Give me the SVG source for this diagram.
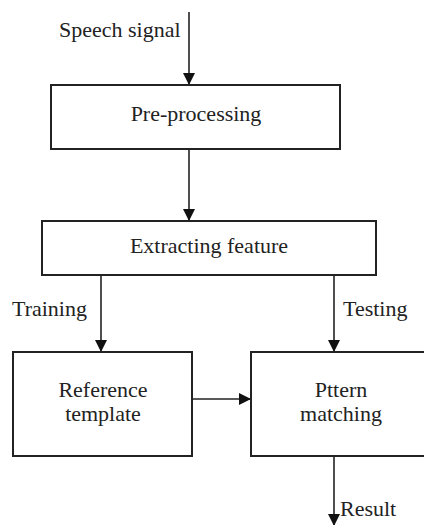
<svg xmlns="http://www.w3.org/2000/svg" width="424" height="525" viewBox="0 0 424 525">
<style>
.box{fill:#fff;stroke:#222;stroke-width:2}
.t{font-family:"Liberation Serif","Times New Roman","DejaVu Serif",serif;font-size:22px;fill:#222}
.c{text-anchor:middle}
.ln{stroke:#222;stroke-width:1.6;fill:none}
</style>
<defs>
<marker id="ah" markerWidth="12" markerHeight="12" refX="11" refY="6" orient="auto" markerUnits="userSpaceOnUse">
<path d="M0,0 L12,6 L0,12 Z" fill="#111"/>
</marker>
</defs>
<rect width="424" height="525" fill="#fff"/>
<g id="connectors">
<line class="ln" x1="189" y1="12" x2="189" y2="84" marker-end="url(#ah)"/>
<line class="ln" x1="189" y1="149" x2="189" y2="220" marker-end="url(#ah)"/>
<line class="ln" x1="101" y1="275" x2="101" y2="351" marker-end="url(#ah)"/>
<line class="ln" x1="334" y1="275" x2="334" y2="351" marker-end="url(#ah)"/>
<line class="ln" x1="192" y1="399" x2="250" y2="399" marker-end="url(#ah)"/>
<line class="ln" x1="334" y1="456" x2="334" y2="525" marker-end="url(#ah)"/>
<text class="t" x="59" y="37">Speech signal</text>
<text class="t" x="12" y="316">Training</text>
<text class="t" x="343" y="316">Testing</text>
<text class="t" x="340" y="516">Result</text>
</g>
<g id="preprocessing">
<rect class="box" x="51" y="85" width="289" height="64"/>
<text class="t c" x="196" y="121">Pre-processing</text>
</g>
<g id="extracting">
<rect class="box" x="42" y="221" width="334" height="54"/>
<text class="t c" x="209" y="253">Extracting feature</text>
</g>
<g id="reference">
<rect class="box" x="13" y="352" width="179" height="104"/>
<text class="t c" x="103" y="397">Reference</text>
<text class="t c" x="103" y="421">template</text>
</g>
<g id="pattern">
<rect class="box" x="251" y="352" width="180" height="104"/>
<text class="t c" x="341" y="397">Pttern</text>
<text class="t c" x="341" y="421">matching</text>
</g>
</svg>
